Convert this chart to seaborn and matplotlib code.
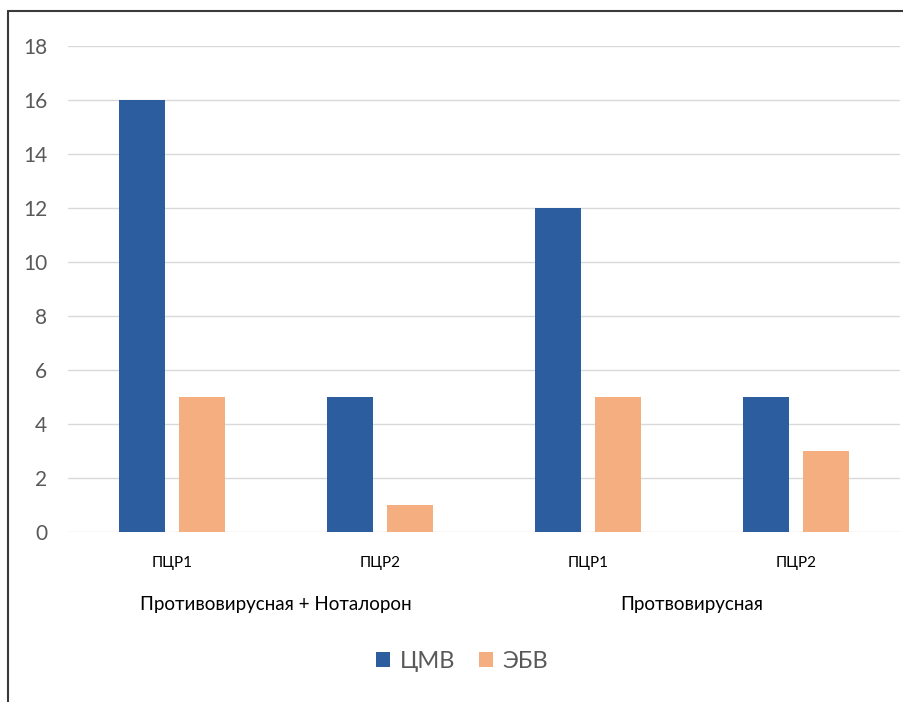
import matplotlib
matplotlib.use("Agg")
import matplotlib.pyplot as plt
import seaborn as sns
import pandas as pd
from matplotlib.lines import Line2D
from matplotlib.patches import Patch

groups = ["Противовирусная + Ноталорон", "Противовирусная + Ноталорон", "Протвовирусная", "Протвовирусная"]
pcr = ["ПЦР1", "ПЦР2", "ПЦР1", "ПЦР2"]
cmv = [16, 5, 12, 5]
ebv = [5, 1, 5, 3]
series = ["ЦМВ", "ЭБВ"]
colors = ["#2C5D9F", "#F5AE7F"]
yticks = [0, 2, 4, 6, 8, 10, 12, 14, 16, 18]

keys = [f"{g}|{p}|{i}" for i, (g, p) in enumerate(zip(groups, pcr))]
df = pd.DataFrame({
    "key": keys * 2,
    "series": [series[0]] * 4 + [series[1]] * 4,
    "value": cmv + ebv,
})

sns.set_theme(style="white")
plt.rcParams["font.family"] = ["Lato", "DejaVu Sans"]

fig = plt.figure(figsize=(9.04, 7.02), dpi=100)
ax = fig.add_axes([68 / 904, 1 - 532 / 702, 832 / 904, 486 / 702])

sns.barplot(data=df, x="key", y="value", hue="series", order=keys, hue_order=series,
            palette=colors, width=0.577, gap=0.22, linewidth=0, saturation=1,
            ax=ax, legend=False)

ax.set_ylim(0, 18)
ax.set_xlim(-0.5, 3.5)
ax.set_yticks(yticks)
ax.set_yticklabels([str(v) for v in yticks], color="#595959", fontsize=15)
ax.set_xticks(range(4))
ax.set_xticklabels(pcr, color="#000000", fontsize=11)
ax.tick_params(axis="both", length=0)
ax.tick_params(axis="y", pad=15)
ax.tick_params(axis="x", pad=17)
ax.set_xlabel("")
ax.set_ylabel("")
ax.yaxis.grid(True, color="#D9D9D9", linewidth=1)
ax.set_axisbelow(True)
for s in ax.spines.values():
    s.set_visible(False)

# group labels
ax.text(0.5, -0.15, groups[0], transform=ax.get_xaxis_transform(), ha="center", va="center",
        fontsize=13.5, color="#000000")
ax.text(2.5, -0.15, groups[2], transform=ax.get_xaxis_transform(), ha="center", va="center",
        fontsize=13.5, color="#000000")

handles = [Patch(facecolor=c, edgecolor="none") for c in colors]
leg = fig.legend(handles, series, loc="center", bbox_to_anchor=(462 / 904, 1 - 661 / 702), ncol=2,
                 frameon=False, fontsize=17, handlelength=0.6, handleheight=0.6,
                 handletextpad=0.4, columnspacing=1.0)
for t in leg.get_texts():
    t.set_color("#595959")

# outer frame (partial)
fig.add_artist(Line2D([8 / 904, 8 / 904], [0, 1 - 11 / 702], transform=fig.transFigure,
                      color="#3A3A3A", linewidth=1.5))
fig.add_artist(Line2D([8 / 904, 1], [1 - 11 / 702, 1 - 11 / 702], transform=fig.transFigure,
                      color="#3A3A3A", linewidth=1.5))

fig.savefig("out.png", dpi=100)
